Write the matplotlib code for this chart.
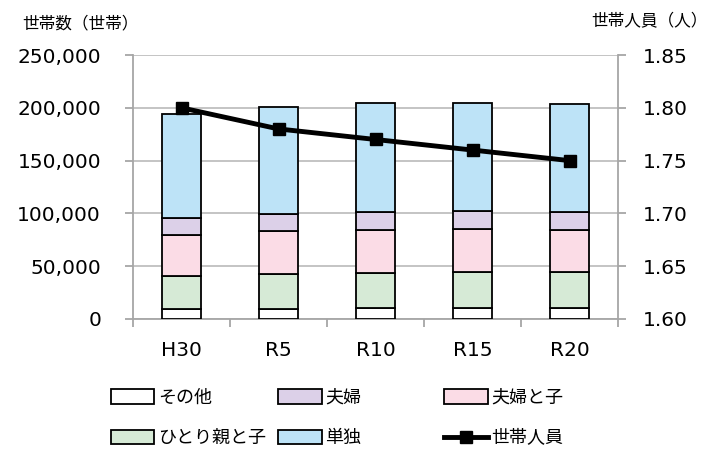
import numpy as np
from matplotlib import pyplot as plt
from matplotlib.patches import Patch
from matplotlib.lines import Line2D

plt.rcParams['font.family'] = ['DejaVu Sans', 'Noto Sans CJK JP']
jp = ['Noto Sans CJK JP', 'DejaVu Sans']

# data (households)
years = ['H30', 'R5', 'R10', 'R15', 'R20']
other = [9500, 9800, 10400, 10700, 10700]
single_parent = [31500, 32800, 33200, 33500, 33800]
couple_child = [38300, 40400, 41000, 41100, 39800]
couple = [16100, 16500, 17100, 17000, 17100]
single = [98600, 101500, 103300, 102100, 102400]
members = [1.80, 1.78, 1.77, 1.76, 1.75]

series = [
    ('その他', other, '#ffffff'),
    ('ひとり親と子', single_parent, '#d6ead6'),
    ('夫婦と子', couple_child, '#fbdce6'),
    ('夫婦', couple, '#dcd0e8'),
    ('単独', single, '#bde3f7'),
]

fig = plt.figure(figsize=(7.12, 4.51), dpi=100)
ax = fig.add_axes([0.1868, 0.2927, 0.6812, 0.5853])
x = np.arange(len(years))

bottom = np.zeros(len(years))
for name, vals, col in series:
    ax.bar(x, vals, width=0.4, bottom=bottom, color=col, edgecolor='black',
           linewidth=1.3, zorder=3)
    bottom += np.array(vals)

ax.set_xlim(-0.5, len(years) - 0.5)
ax.set_ylim(0, 250000)
ax.set_yticks(np.arange(0, 250001, 50000))
ax.set_yticklabels([f'{v:,}' for v in range(0, 250001, 50000)], fontsize=14.5)
ax.yaxis.grid(True, color='#bfbfbf', linewidth=1.3, zorder=0)
ax.set_xticks(x)
ax.set_xticklabels(years, fontsize=14.5)
ax.set_xticks(np.arange(-0.5, len(years)), minor=True)
ax.tick_params(axis='x', which='major', length=0, pad=16)
ax.tick_params(axis='x', which='minor', length=6, color='#a6a6a6', width=1.3)
ax.tick_params(axis='y', length=6, color='#a6a6a6', width=1.3, pad=17)
for s in ['left', 'right', 'bottom']:
    ax.spines[s].set_color('#a6a6a6')
    ax.spines[s].set_linewidth(1.3)
ax.spines['top'].set_visible(False)

ax2 = ax.twinx()
ax2.plot(x, members, color='black', linewidth=3.5, marker='s', markersize=9,
         zorder=5)
ax2.set_ylim(1.60, 1.85)
ax2.set_yticks(np.arange(1.60, 1.851, 0.05))
ax2.set_yticklabels([f'{v:.2f}' for v in np.arange(1.60, 1.851, 0.05)],
                    fontsize=14.5)
ax2.tick_params(axis='y', length=6, color='#a6a6a6', width=1.3, pad=12)
for s in ['left', 'right', 'bottom', 'top']:
    ax2.spines[s].set_visible(False)

fig.text(0.031, 0.948, '世帯数（世帯）', family=jp, fontsize=12, va='center')
fig.text(0.831, 0.952, '世帯人員（人）', family=jp, fontsize=12, va='center')

# legend, three columns placed by hand
handles = {name: Patch(facecolor=col, edgecolor='black', linewidth=1.3)
           for name, vals, col in series}
handles['世帯人員'] = Line2D([], [], color='black', linewidth=3.5, marker='s',
                         markersize=9)
columns = [(['その他', 'ひとり親と子'], 0.156),
           (['夫婦', '単独'], 0.391),
           (['夫婦と子', '世帯人員'], 0.624)]
for names, xpos in columns:
    fig.legend([handles[n] for n in names], names, loc='upper left',
               bbox_to_anchor=(xpos, 0.138), frameon=False,
               prop={'family': jp, 'size': 13}, handlelength=2.4,
               handleheight=0.85, handletextpad=0.2, labelspacing=1.25,
               borderpad=0, borderaxespad=0)

fig.savefig('out.png', dpi=100)
